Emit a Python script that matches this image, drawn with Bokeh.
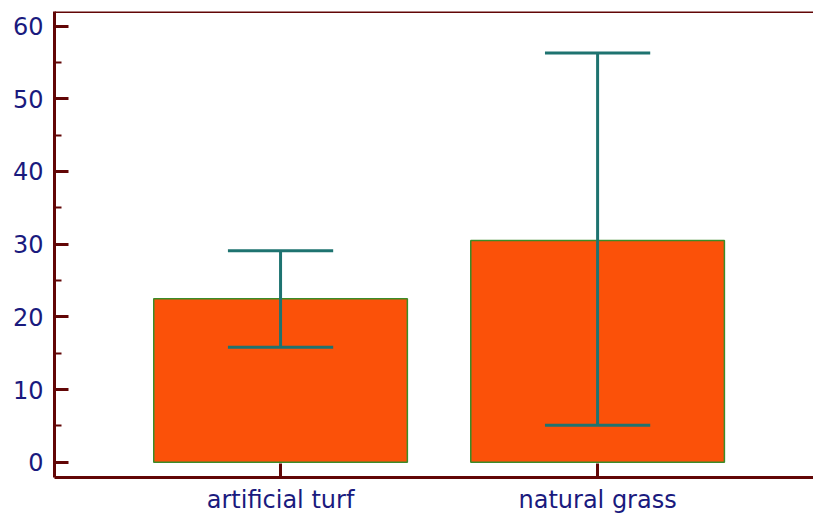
from bokeh.plotting import figure
from bokeh.models import Range1d, FixedTicker, Span, ColumnDataSource
from bokeh.embed import file_html
from bokeh.resources import INLINE

categories = ["artificial turf", "natural grass"]
positions = [1, 2]
means = [22.5, 30.5]
lower = [15.8, 5.1]
upper = [29.1, 56.3]
y_ticks = [0, 10, 20, 30, 40, 50, 60]

bar_width = 0.8
cap_half = 0.166

src = ColumnDataSource(dict(
    x=positions, top=means, lo=lower, hi=upper,
    x0=[v - cap_half for v in positions], x1=[v + cap_half for v in positions],
))

p = figure(frame_width=759, frame_height=466, output_backend="svg", toolbar_location=None,
           x_range=Range1d(0.287, 2.681), y_range=Range1d(-2.1, 62.0),
           min_border_left=54, min_border_top=11, min_border_right=0, min_border_bottom=37)
p.outline_line_color = None
p.background_fill_color = "white"
p.border_fill_color = "white"
p.xgrid.visible = False
p.ygrid.visible = False

axis_color = "#620606"
label_color = "#1a1a7e"

p.vbar(x="x", top="top", bottom=0, width=bar_width, source=src,
       fill_color="#FB5109", line_color="#3c8c28", line_width=1.5)
p.segment(x0="x", y0="lo", x1="x", y1="hi", source=src, line_color="#1e7370", line_width=3)
p.segment(x0="x0", y0="hi", x1="x1", y1="hi", source=src, line_color="#1e7370", line_width=3)
p.segment(x0="x0", y0="lo", x1="x1", y1="lo", source=src, line_color="#1e7370", line_width=3)

top_line = Span(location=62.0, dimension="width", line_color=axis_color, line_width=3)
p.add_layout(top_line)

for ax in (p.xaxis[0], p.yaxis[0]):
    ax.axis_line_color = axis_color
    ax.axis_line_width = 3
    ax.major_tick_line_color = axis_color
    ax.major_tick_line_width = 3
    ax.minor_tick_line_color = axis_color
    ax.minor_tick_line_width = 2
    ax.major_tick_in = 14
    ax.major_tick_out = 0
    ax.minor_tick_in = 7
    ax.minor_tick_out = 0
    ax.major_label_text_color = label_color
    ax.major_label_text_font = "DejaVu Sans"
    ax.major_label_text_font_size = "24px"

p.yaxis[0].ticker = FixedTicker(ticks=y_ticks, minor_ticks=[5, 15, 25, 35, 45, 55])
p.yaxis[0].major_label_standoff = 11
p.xaxis[0].ticker = FixedTicker(ticks=positions)
p.xaxis[0].major_label_overrides = {pos: lab for pos, lab in zip(positions, categories)}
p.xaxis[0].minor_tick_line_color = None
p.xaxis[0].major_label_standoff = 8

open("out.html", "w").write(file_html(p, INLINE))
